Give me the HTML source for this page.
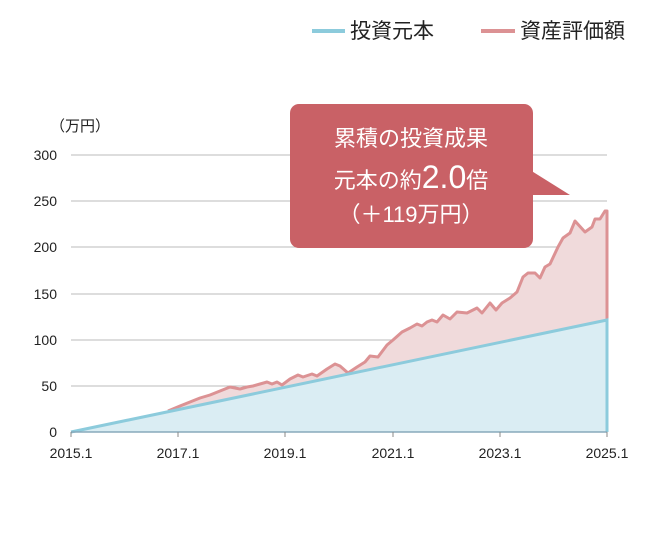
<!DOCTYPE html>
<html><head><meta charset="utf-8"><style>
body{margin:0;background:#fff;}
svg text{font-family:"Liberation Sans","Noto Sans CJK JP",sans-serif;}
</style></head><body>
<svg width="661" height="531" viewBox="0 0 661 531" xmlns="http://www.w3.org/2000/svg">
<g stroke="#bbb" stroke-width="1">
<line x1="71" y1="155" x2="607" y2="155"/>
<line x1="71" y1="201" x2="607" y2="201"/>
<line x1="71" y1="247" x2="607" y2="247"/>
<line x1="71" y1="294" x2="607" y2="294"/>
<line x1="71" y1="340" x2="607" y2="340"/>
<line x1="71" y1="386" x2="607" y2="386"/>
</g>
<g font-size="14" fill="#222" text-anchor="end">
<text x="57" y="160">300</text><text x="57" y="206">250</text><text x="57" y="252">200</text>
<text x="57" y="299">150</text><text x="57" y="345">100</text><text x="57" y="391">50</text><text x="57" y="437">0</text>
</g>
<text x="50" y="131" font-size="15" fill="#222">（万円）</text>
<path d="M71,432 L168,411 L180,406 L200,398 L210,395 L220,391 L230,387 L235,388 L240,389 L247,387 L253,386 L260,384 L267,382 L272,384 L277,382 L282,385 L290,379 L298,375 L303,377 L312,374 L317,376 L327,369 L335,364 L340,366 L348,373 L357,367 L365,362 L370,356 L378,357 L387,345 L393,340 L402,332 L410,328 L417,324 L422,326 L427,322 L432,320 L437,322 L443,315 L450,319 L457,312 L467,313 L477,308 L482,313 L490,303 L496,310 L502,303 L510,298 L517,292 L523,277 L528,273 L535,273 L540,278 L545,267 L550,264 L558,247 L563,238 L570,233 L575,221 L585,232 L592,227 L595,219 L600,219 L605,211 L607,211 L607,432 Z" fill="#f0dadb"/>
<path d="M71,432 L607,320 L607,432 Z" fill="#daedf3"/>
<path d="M168,411 L180,406 L200,398 L210,395 L220,391 L230,387 L235,388 L240,389 L247,387 L253,386 L260,384 L267,382 L272,384 L277,382 L282,385 L290,379 L298,375 L303,377 L312,374 L317,376 L327,369 L335,364 L340,366 L348,373 L357,367 L365,362 L370,356 L378,357 L387,345 L393,340 L402,332 L410,328 L417,324 L422,326 L427,322 L432,320 L437,322 L443,315 L450,319 L457,312 L467,313 L477,308 L482,313 L490,303 L496,310 L502,303 L510,298 L517,292 L523,277 L528,273 L535,273 L540,278 L545,267 L550,264 L558,247 L563,238 L570,233 L575,221 L585,232 L592,227 L595,219 L600,219 L605,211 L607,211 L607,320" fill="none" stroke="#dc9294" stroke-width="3" stroke-linejoin="round"/>
<path d="M71,432 L607,320 L607,432" fill="none" stroke="#8ccbdc" stroke-width="3"/>
<line x1="71" y1="432" x2="607" y2="432" stroke="#8ab" stroke-width="1.5"/>
<g stroke="#888" stroke-width="1">
<line x1="71" y1="432" x2="71" y2="437"/><line x1="178" y1="432" x2="178" y2="437"/><line x1="285" y1="432" x2="285" y2="437"/>
<line x1="393" y1="432" x2="393" y2="437"/><line x1="500" y1="432" x2="500" y2="437"/><line x1="607" y1="432" x2="607" y2="437"/>
</g>
<g font-size="14" fill="#222" text-anchor="middle">
<text x="71" y="458">2015.1</text><text x="178" y="458">2017.1</text><text x="285" y="458">2019.1</text>
<text x="393" y="458">2021.1</text><text x="500" y="458">2023.1</text><text x="607" y="458">2025.1</text>
</g>
<rect x="290" y="104" width="243" height="144" rx="9" fill="#c96166"/>
<path d="M530,170 L570,195 L530,195 Z" fill="#c96166"/>
<g fill="#fff" text-anchor="middle" font-size="22">
<text x="411" y="146">累積の投資成果</text>
<text x="411" y="188"><tspan>元本の約</tspan><tspan font-size="32">2.0</tspan><tspan>倍</tspan></text>
<text x="411" y="222">（＋119万円）</text>
</g>
<line x1="312" y1="31" x2="345" y2="31" stroke="#8ccbdc" stroke-width="4"/>
<text x="350" y="38" font-size="21" fill="#222">投資元本</text>
<line x1="481" y1="31" x2="515" y2="31" stroke="#dc9294" stroke-width="4"/>
<text x="520" y="38" font-size="21" fill="#222">資産評価額</text>
</svg>
</body></html>
